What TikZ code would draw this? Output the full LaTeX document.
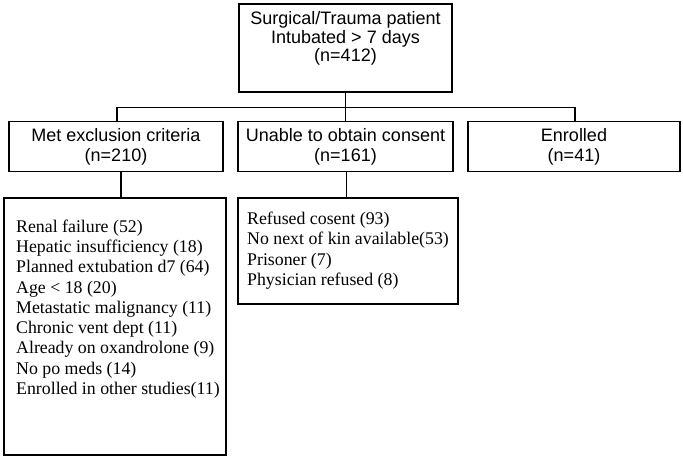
\documentclass[tikz,border=0pt]{standalone}
\usepackage{fontspec}
\setmainfont{Liberation Serif}
\setsansfont{Liberation Sans}
\begin{document}
\begin{tikzpicture}[x=1pt,y=1pt,
  box/.style={draw, line width=1.3pt, inner sep=0pt},
  sanstext/.style={font=\sffamily\fontsize{18}{20}\selectfont, align=center},
  toptextstyle/.style={font=\sffamily\fontsize{18}{18.5}\selectfont, align=center, inner sep=0pt},
  seriftext/.style={font=\rmfamily\fontsize{17.8}{20.3}\selectfont, align=left, inner sep=0pt, anchor=west},
  link/.style={line width=1.3pt}]
\useasboundingbox (0,0) rectangle (683,-461);
% top box
\node[box, minimum width=213pt, minimum height=88pt] (top) at (345.5,-48) {};
\node[toptextstyle] (toptext) at (345.5,-38.5) {Surgical/Trauma patient\\Intubated > 7 days\\(n=412)};
% second level
\node[box, sanstext, minimum width=214pt, minimum height=50pt] (ex) at (116,-146.5) {Met exclusion criteria\\(n=210)};
\node[box, sanstext, minimum width=215pt, minimum height=50pt] (uc) at (345.5,-146.5) {Unable to obtain consent\\(n=161)};
\node[box, sanstext, minimum width=212pt, minimum height=50pt] (en) at (574,-146.5) {Enrolled\\(n=41)};
% lower boxes
\node[box, minimum width=222pt, minimum height=257pt] (exl) at (115,-326.5) {};
\node[seriftext] (exltext) at (16,-309) {Renal failure (52)\\Hepatic insufficiency (18)\\Planned extubation d7 (64)\\Age < 18 (20)\\Metastatic malignancy (11)\\Chronic vent dept (11)\\Already on oxandrolone (9)\\No po meds (14)\\Enrolled in other studies(11)};
\node[box, minimum width=220pt, minimum height=106pt] (ucl) at (348,-251) {};
\node[seriftext] (ucltext) at (247,-250.5) {Refused cosent (93)\\No next of kin available(53)\\Prisoner (7)\\Physician refused (8)};
% connectors
\coordinate (bus) at (0,-107.5);
\draw[link] (top.south) -- (uc.north);
\draw[link] ([xshift=1pt]ex.north) |- (bus -| uc.north) -| ([xshift=1pt]en.north);
\draw[link] ([xshift=5pt]ex.south) -- ([xshift=5pt]ex.south |- exl.north);
\draw[link] ([xshift=1pt]uc.south) -- ([xshift=1pt]uc.south |- ucl.north);
\end{tikzpicture}
\end{document}
